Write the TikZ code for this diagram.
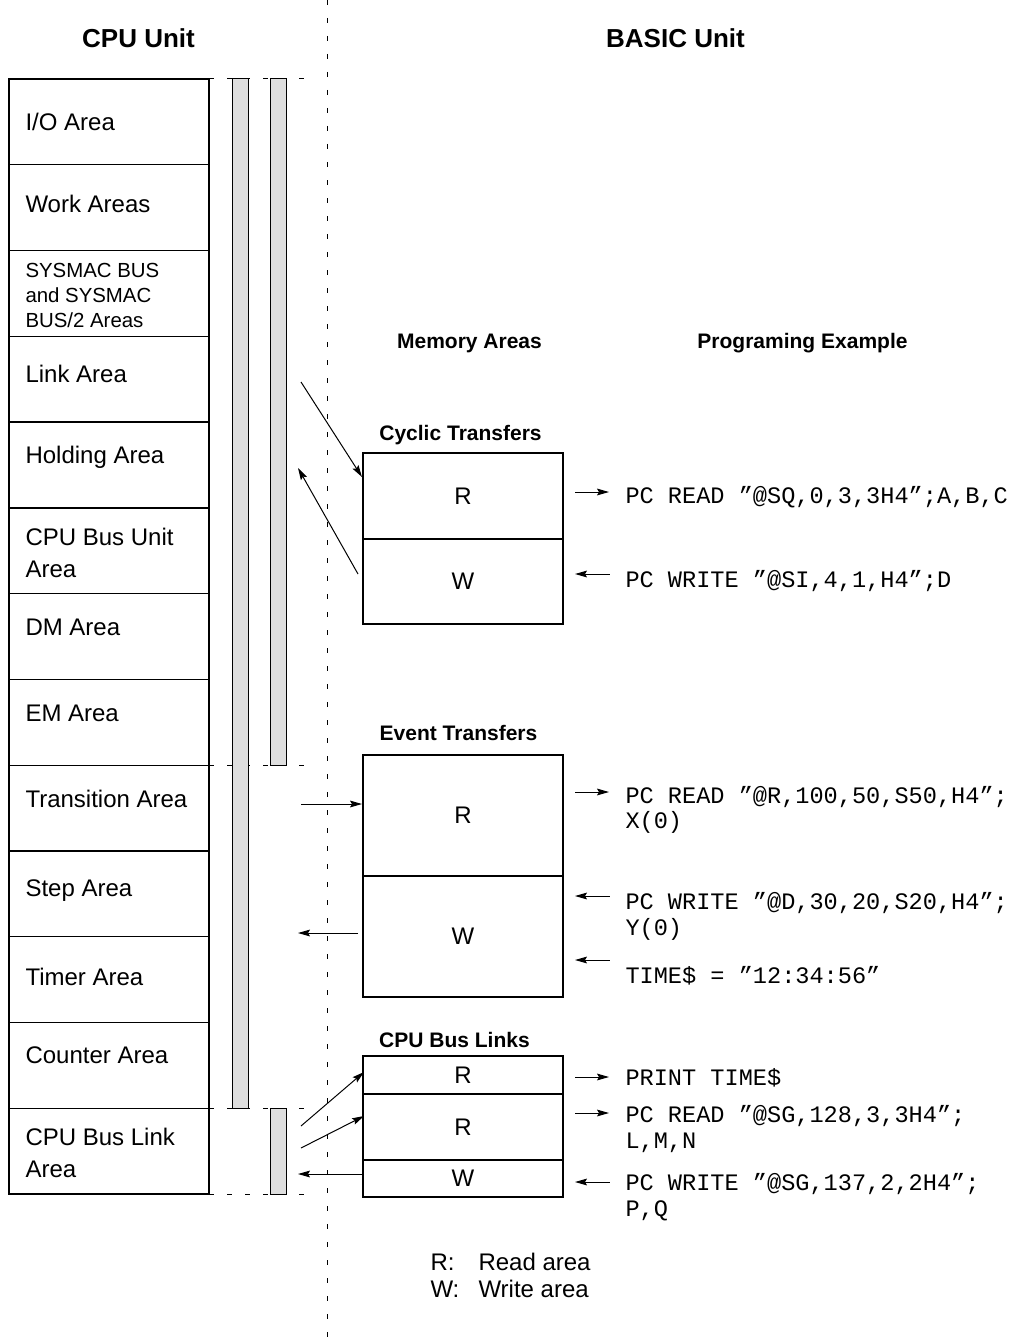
\documentclass[tikz,border=0pt]{standalone}
\usepackage{fontspec}
\setmainfont{Liberation Sans}
\setmonofont{Liberation Mono}
\usetikzlibrary{arrows.meta,positioning,calc}
\definecolor{barfill}{gray}{0.87}
\tikzset{
  area/.style={draw, line width=0.65pt, anchor=north west, minimum width=100pt, minimum height=42.885pt, inner sep=0pt, outer sep=0pt},
  lbl/.style={anchor=base west, inner sep=0pt, font={\fontsize{12}{14}\selectfont}},
  small/.style={lbl, font={\fontsize{10.2}{12}\selectfont}},
  head/.style={anchor=base, inner sep=0pt, font={\bfseries\fontsize{13}{15}\selectfont}},
  sub/.style={anchor=base, inner sep=0pt, font={\bfseries\fontsize{10.5}{12}\selectfont}},
  cell/.style={draw, line width=0.65pt, anchor=north west, minimum width=100pt, inner sep=0pt, outer sep=0pt, font={\fontsize{12}{14}\selectfont}},
  code/.style={anchor=base west, inner sep=0pt, font={\ttfamily\fontsize{11.8}{13}\selectfont}},
  bar/.style={draw, line width=0.5pt, fill=barfill},
  guide/.style={line width=0.5pt, dash pattern=on 2.5pt off 6.5pt},
}
\begin{document}
\begin{tikzpicture}[x=0.5pt, y=-0.5pt, line width=0.5pt, >={Stealth[length=6pt,width=3.4pt,inset=1pt]}]
  \useasboundingbox (0,0) rectangle (1015,1338);
  % border between the two units
  \draw[guide] (327,0) -- (327,1338);
  \node[head] (cpu) at (138.5,48) {CPU Unit};
  \node[head] (basic) at (675.5,48) {BASIC Unit};

  % CPU Unit memory map
  \foreach \i in {0,...,12} \node[area] (a\i) at (9,{79+85.77*\i}) {};
  \foreach \y/\t in {131/{I/O Area}, 213/{Work Areas}, 382/{Link Area}, 463/{Holding Area},
      545/{CPU Bus Unit}, 577/{Area}, 635/{DM Area}, 721/{EM Area}, 807/{Transition Area},
      896/{Step Area}, 985/{Timer Area}, 1063/{Counter Area}, 1145/{CPU Bus Link}, 1177/{Area}}
    \node[lbl] (l\y) at (25,\y) {\t};
  \foreach \y/\t in {277/{SYSMAC BUS}, 302/{and SYSMAC}, 327/{BUS/2 Areas}}
    \node[small] (l\y) at (25,\y) {\t};
  \foreach \y in {79,765,1108,1194} \draw[guide] (209,\y) -- (306,\y);
  \draw[bar] (232,79) rectangle (248,1108);
  \draw[bar] (270,79) rectangle (286,765);
  \draw[bar] (270,1108) rectangle (286,1194);

  \node[sub] (memh) at (469.5,348) {Memory Areas};
  \node[sub] (progh) at (802.5,348) {Programing Example};

  % cyclic transfers
  \node[sub] (cych) at (460.5,440) {Cyclic Transfers};
  \node[cell, minimum height=43pt] (cR) at (363,453) {R};
  \node[cell, minimum height=42.5pt, below=0pt of cR] (cW) {W};
  \coordinate (cIn) at (301,382);
  \coordinate (cOut) at (298,468);
  \draw[->] (cIn) -- ($(cR.north west)+(-1,24)$);
  \draw[->] ($(cW.west)+(-5,-7.5)$) -- (cOut);
  \node[code] (cRc) at (625,503) {PC READ ”@SQ,0,3,3H4”;A,B,C};
  \node[code] (cWc) at (625,587) {PC WRITE ”@SI,4,1,H4”;D};
  \draw[->] ($(cRc.base west)+(-50,-11)$) -- ($(cRc.base west)+(-16,-11)$);
  \draw[<-] ($(cWc.base west)+(-50,-13)$) -- ($(cWc.base west)+(-15,-13)$);

  % event transfers
  \node[sub] (evh) at (458.5,740) {Event Transfers};
  \node[cell, minimum height=60.5pt] (eR) at (363,755) {R};
  \node[cell, minimum height=60.5pt, below=0pt of eR] (eW) {W};
  \coordinate (eIn) at (301,804);
  \coordinate (eOut) at (298,933);
  \draw[->] (eIn) -- ($(eR.north west)+(-1,49)$);
  \draw[->] ($(eW.west)+(-5,-3.5)$) -- (eOut);
  \node[code] (eRc) at (625,803) {PC READ ”@R,100,50,S50,H4”;};
  \node[code] (eRc2) at (625,828) {X(0)};
  \node[code] (eWc) at (625,909) {PC WRITE ”@D,30,20,S20,H4”;};
  \node[code] (eWc2) at (625,935) {Y(0)};
  \node[code] (eTc) at (625,983) {TIME\$ = ”12:34:56”};
  \draw[->] ($(eRc.base west)+(-50,-11)$) -- ($(eRc.base west)+(-16,-11)$);
  \draw[<-] ($(eWc.base west)+(-50,-13)$) -- ($(eWc.base west)+(-15,-13)$);
  \draw[<-] ($(eTc.base west)+(-50,-23)$) -- ($(eTc.base west)+(-15,-23)$);

  % CPU bus links
  \node[sub] (bush) at (454.5,1047) {CPU Bus Links};
  \node[cell, minimum height=19pt] (bR1) at (363,1056) {R};
  \node[cell, minimum height=33pt, below=0pt of bR1] (bR2) {R};
  \node[cell, minimum height=18.5pt, below=0pt of bR2] (bW) {W};
  \coordinate (bIn1) at (301,1126);
  \coordinate (bIn2) at (301,1148);
  \coordinate (bOut) at (298,1174);
  \draw[->] (bIn1) -- ($(bR1.west)+(1,-3)$);
  \draw[->] (bIn2) -- ($(bR2.north west)+(1,22)$);
  \draw[->] ($(bW.west)+(0,-4.5)$) -- (bOut);
  \node[code] (bRc1) at (625,1085) {PRINT TIME\$};
  \node[code] (bRc2) at (625,1122) {PC READ ”@SG,128,3,3H4”;};
  \node[code] (bRc3) at (625,1148) {L,M,N};
  \node[code] (bWc) at (625,1190) {PC WRITE ”@SG,137,2,2H4”;};
  \node[code] (bWc2) at (625,1216) {P,Q};
  \draw[->] ($(bRc1.base west)+(-50,-8)$) -- ($(bRc1.base west)+(-16,-8)$);
  \draw[->] ($(bRc2.base west)+(-50,-9)$) -- ($(bRc2.base west)+(-16,-9)$);
  \draw[<-] ($(bWc.base west)+(-50,-8)$) -- ($(bWc.base west)+(-15,-8)$);

  % key
  \node[lbl] (kR) at (430,1270) {R:};
  \node[lbl] (kRt) at (478,1270) {Read area};
  \node[lbl] (kW) at (430,1297) {W:};
  \node[lbl] (kWt) at (478,1297) {Write area};
\end{tikzpicture}
\end{document}
